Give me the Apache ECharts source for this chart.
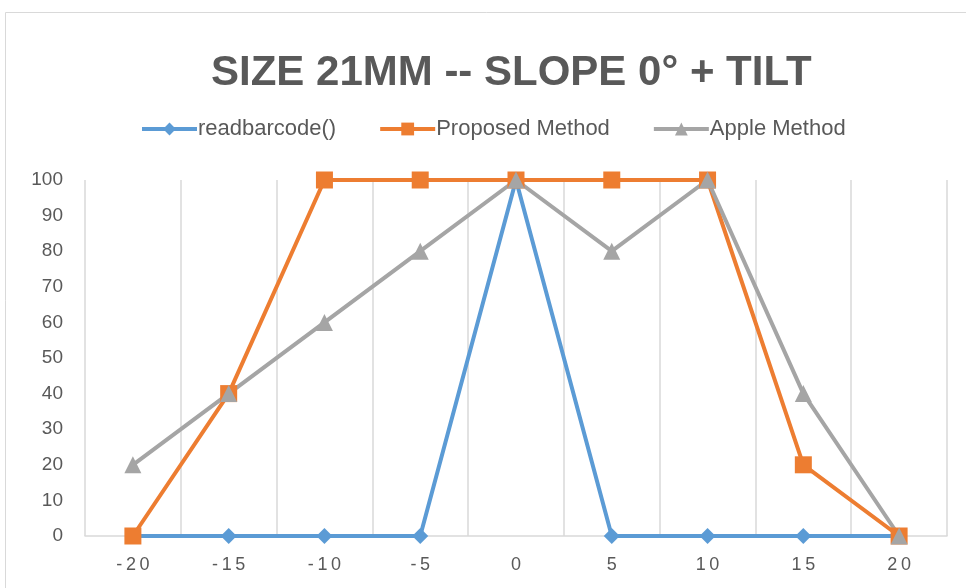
<!DOCTYPE html>
<html>
<head>
<meta charset="utf-8">
<script src="https://cdn.jsdelivr.net/npm/echarts@6/dist/echarts.min.js"></script>
<style>
  html, body { margin: 0; padding: 0; background: #fff; }
  #chart { width: 966px; height: 588px; }
</style>
</head>
<body>
<div id="chart"></div>
<script>
// Tilt angles (degrees) along the horizontal axis
const tiltAngles = ['-20', '-15', '-10', '-5', '0', '5', '10', '15', '20'];
// Read success rate (%) per method
const readbarcodeValues = [0, 0, 0, 0, 100, 0, 0, 0, 0];
const proposedValues = [0, 40, 100, 100, 100, 100, 100, 20, 0];
const appleValues = [20, 40, 60, 80, 100, 80, 100, 40, 0];

const seriesNames = ['readbarcode()', 'Proposed Method', 'Apple Method'];
const textColor = '#595959';
const fontFamily = '"Liberation Sans", Arial, sans-serif';

const chart = echarts.init(document.getElementById('chart'), null, { renderer: 'canvas' });

function lineSeries(name, data, color, symbol, size) {
  return {
    name: name,
    type: 'line',
    data: data,
    symbol: symbol,
    symbolSize: size,
    itemStyle: { color: color },
    lineStyle: { color: color, width: 4 },
    emphasis: { disabled: true },
    animation: false
  };
}

chart.setOption({
  animation: false,
  backgroundColor: '#ffffff',
  graphic: [{
    type: 'rect',
    shape: { x: 5.5, y: 12.5, width: 1200, height: 1200 },
    style: { fill: 'none', stroke: '#d9d9d9', lineWidth: 1 },
    silent: true
  }],
  title: {
    text: 'SIZE 21MM -- SLOPE 0° + TILT',
    left: 206,
    top: 47,
    textStyle: { color: textColor, fontSize: 42, fontWeight: 'bold', fontFamily: fontFamily }
  },
  legend: {
    data: seriesNames,
    top: 118,
    left: 140,
    padding: 0,
    itemWidth: 55,
    itemHeight: 16,
    itemGap: 42,
    lineStyle: { width: 4 },
    textStyle: { color: textColor, fontSize: 22, fontFamily: fontFamily, padding: [0, 0, 0, -4] }
  },
  grid: { left: 85, right: 19, top: 180, bottom: 52, containLabel: false },
  xAxis: {
    type: 'category',
    data: tiltAngles,
    boundaryGap: true,
    axisLine: { lineStyle: { color: '#d9d9d9', width: 1.5 } },
    axisTick: { show: false },
    splitLine: { show: true, lineStyle: { color: '#d9d9d9', width: 1.5 } },
    axisLabel: {
      color: textColor,
      fontSize: 18,
      fontFamily: fontFamily,
      margin: 20,
      formatter: function (v) { return v.split('').join('\u2009'); }
    }
  },
  yAxis: {
    type: 'value',
    min: 0,
    max: 100,
    interval: 10,
    axisLine: { show: false },
    axisTick: { show: false },
    splitLine: { show: false },
    axisLabel: { color: textColor, fontSize: 19, fontFamily: fontFamily, margin: 22 }
  },
  series: [
    lineSeries(seriesNames[0], readbarcodeValues, '#5b9bd5', 'diamond', 16),
    lineSeries(seriesNames[1], proposedValues, '#ed7d31', 'rect', 17),
    lineSeries(seriesNames[2], appleValues, '#a5a5a5', 'triangle', 17)
  ]
});
</script>
</body>
</html>
